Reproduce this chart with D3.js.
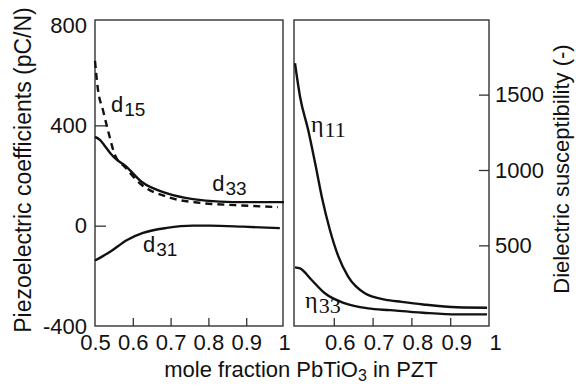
<!DOCTYPE html>
<html>
<head>
<meta charset="utf-8">
<script src="https://cdn.jsdelivr.net/npm/d3@7"></script>
<style>
	body { margin: 0; background: #fff; }
	svg { display: block; }
	text { font-family: 'Liberation Sans', Arial, Helvetica, sans-serif; fill: #111; }
	.greek { font-family: 'Liberation Serif', 'Times New Roman', serif; }
	.curve { fill: none; stroke: #111; stroke-width: 2.4; }
	.frame { fill: none; stroke: #333; stroke-width: 1.4; }
	.tick line { stroke: #333; stroke-width: 1.3; }
</style>
</head>
<body>
<svg id="chart" width="576" height="385"></svg>
<script>
// piezoelectric coefficients (pC/N) vs mole fraction PbTiO3
const d15X = [0.5, 0.508, 0.521, 0.534, 0.553, 0.579, 0.624, 0.693, 0.783, 0.87, 0.984];
const d15Y = [657, 541, 461, 382, 281, 234, 162, 114, 90, 82, 74];
const d33X = [0.5, 0.513, 0.524, 0.54, 0.558, 0.579, 0.624, 0.693, 0.759, 0.83, 0.9, 1.0];
const d33Y = [354, 342, 322, 290, 262, 240, 174, 128, 106, 96, 94, 94];
const d31X = [0.5, 0.54, 0.585, 0.627, 0.69, 0.759, 0.804, 0.892, 0.989];
const d31Y = [-139, -104, -57, -29, -9, 0, 0, -4, -10];

// dielectric susceptibility (-)
const eta11X = [0.5, 0.513, 0.534, 0.552, 0.569, 0.59, 0.612, 0.637, 0.68, 0.732, 0.775, 0.83, 0.918, 0.995];
const eta11Y = [1708, 1486, 1265, 1044, 823, 602, 425, 292, 182, 140, 125, 108, 89, 86];
const eta33X = [0.5, 0.513, 0.543, 0.577, 0.629, 0.688, 0.745, 0.83, 0.918, 0.995];
const eta33Y = [354, 347, 270, 182, 115, 82, 70, 53, 42, 42];

const leftTicksY = [-400, 0, 400, 800];
const leftTicksX = [0.5, 0.6, 0.7, 0.8, 0.9, 1];
const rightTicksY = [500, 1000, 1500];
const rightTicksX = [0.6, 0.7, 0.8, 0.9, 1];

const svg = d3.select('#chart');

// panel boxes
const L = { left: 95, right: 283, top: 20, bottom: 326 };
const R = { left: 294, right: 489, top: 20, bottom: 326 };

const xL = d3.scaleLinear().domain([0.5, 1]).range([L.left, L.left + 189]);
const yL = d3.scaleLinear().domain([-400, 820]).range([L.bottom, L.top]);
const xR = d3.scaleLinear().domain([0.5, 1]).range([R.left + 1, R.right]);
const yR = d3.scaleLinear().domain([-35, 1995]).range([R.bottom, R.top]);

const fmt = d => String(d);
const zip = (xs, ys) => xs.map((x, i) => ({ x: x, y: ys[i] }));
const tickFont = '22px';

// left panel axes
svg.append('g')
	.attr('transform', 'translate(' + L.left + ',0)')
	.call(d3.axisLeft(yL).tickValues(leftTicksY).tickFormat(fmt).tickSize(-11).tickPadding(8))
	.call(g => g.select('.domain').remove())
	.call(g => g.selectAll('.tick').filter(d => d === -400 || d === 800).select('line').remove())
	.selectAll('text').style('font-size', tickFont).attr('fill', '#111');

svg.append('g')
	.attr('transform', 'translate(0,' + L.bottom + ')')
	.call(d3.axisBottom(xL).tickValues(leftTicksX).tickFormat(fmt).tickSize(-8).tickPadding(8))
	.call(g => g.select('.domain').remove())
	.call(g => g.selectAll('.tick').filter(d => d === 0.5 || d === 1).select('line').remove())
	.selectAll('text').style('font-size', tickFont).attr('fill', '#111');

// right panel axes
svg.append('g')
	.attr('transform', 'translate(' + R.right + ',0)')
	.call(d3.axisRight(yR).tickValues(rightTicksY).tickFormat(fmt).tickSize(-10).tickPadding(6))
	.call(g => g.select('.domain').remove())
	.selectAll('text').style('font-size', tickFont).attr('fill', '#111');

svg.append('g')
	.attr('transform', 'translate(0,' + R.bottom + ')')
	.call(d3.axisBottom(xR).tickValues(rightTicksX).tickFormat(fmt).tickSize(-8).tickPadding(8))
	.call(g => g.select('.domain').remove())
	.call(g => g.selectAll('.tick').filter(d => d === 1).select('line').remove())
	.selectAll('text').style('font-size', tickFont).attr('fill', '#111').attr('dx', 6);

// frames
[L, R].forEach(p => {
	svg.append('rect').attr('class', 'frame')
		.attr('x', p.left).attr('y', p.top)
		.attr('width', p.right - p.left).attr('height', p.bottom - p.top);
});

// curves
const lineL = d3.line().x(d => xL(d.x)).y(d => yL(d.y)).curve(d3.curveMonotoneX);
const lineR = d3.line().x(d => xR(d.x)).y(d => yR(d.y)).curve(d3.curveMonotoneX);

svg.append('path').attr('class', 'curve').attr('d', lineL(zip(d15X, d15Y)))
	.attr('stroke-dasharray', '7,5');
svg.append('path').attr('class', 'curve').attr('d', lineL(zip(d33X, d33Y)));
svg.append('path').attr('class', 'curve').attr('d', lineL(zip(d31X, d31Y)));
svg.append('path').attr('class', 'curve').attr('d', lineR(zip(eta11X, eta11Y)));
svg.append('path').attr('class', 'curve').attr('d', lineR(zip(eta33X, eta33Y)));

// curve labels
const label = (px, py, main, sub, cls, size, subSize, dy) => {
	let t = svg.append('text').attr('x', px).attr('y', py).style('font-size', size + 'px');
	if (cls) { t.attr('class', cls); }
	t.append('tspan').text(main);
	t.append('tspan').attr('dy', dy).attr('dx', 1).style('font-size', subSize + 'px').text(sub);
};
label(xL(0.542), yL(453), 'd', '15', null, 22, 19, 4);
label(xL(0.810), yL(138), 'd', '33', null, 22, 19, 4);
label(xL(0.627), yL(-105), 'd', '31', null, 22, 19, 4);
label(xR(0.541), yR(1252), 'η', '11', 'greek', 24, 22, 5);
label(xR(0.526), yR(84), 'η', '33', 'greek', 24, 22, 5);

// axis titles
svg.append('text')
	.attr('transform', 'translate(31,170) rotate(-90)')
	.attr('text-anchor', 'middle')
	.style('font-size', '23px')
	.text('Piezoelectric coefficients (pC/N)');

svg.append('text')
	.attr('transform', 'translate(569,169) rotate(-90)')
	.attr('text-anchor', 'middle')
	.style('font-size', '22px')
	.text('Dielectric susceptibility (-)');

const xt = svg.append('text')
	.attr('x', 301).attr('y', 377)
	.attr('text-anchor', 'middle')
	.style('font-size', '22px');
xt.append('tspan').text('mole fraction PbTiO');
xt.append('tspan').attr('dy', 4).style('font-size', '16px').text('3');
xt.append('tspan').attr('dy', -4).text(' in PZT');
</script>
</body>
</html>
